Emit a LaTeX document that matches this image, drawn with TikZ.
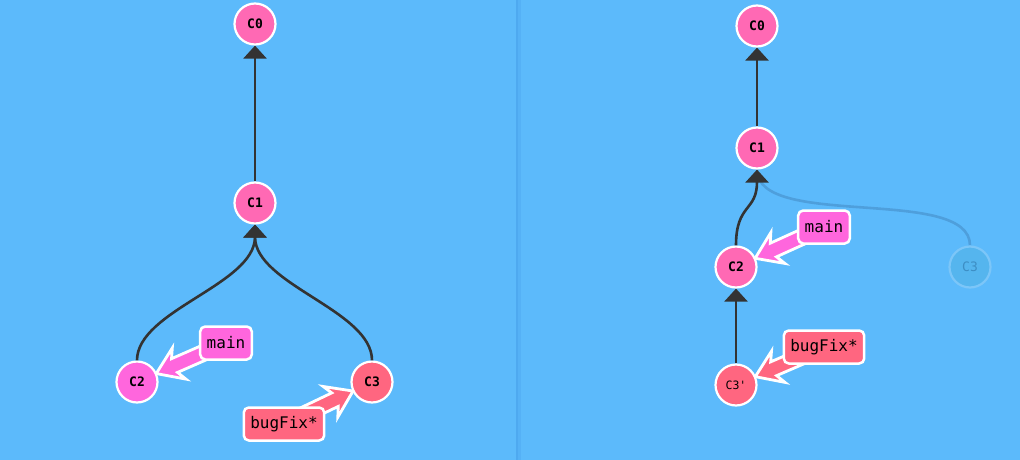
\documentclass[tikz,border=0pt]{standalone}
\usepackage{fontspec}
\setmonofont{DejaVu Sans Mono}
\usetikzlibrary{calc,arrows.meta}
\definecolor{bgblue}{HTML}{5CBAFB}
\definecolor{divblue}{HTML}{4EA9F0}
\definecolor{hotpink}{HTML}{FF69B4}
\definecolor{magent}{HTML}{FF66DD}
\definecolor{redpink}{HTML}{FF6680}
\definecolor{edgegray}{HTML}{333333}
\definecolor{ghostfill}{HTML}{55B5EE}
\definecolor{ghostborder}{HTML}{7CC6F8}
\definecolor{ghostline}{HTML}{4E9FDC}
\definecolor{ghosttext}{HTML}{3D8EC4}
\pgfdeclarelayer{arrowlayer}
\pgfsetlayers{arrowlayer,main}
\tikzset{
  commit/.style={circle, draw=white, line width=2.2pt, minimum size=41pt, inner sep=0pt,
    font=\ttfamily\bfseries\fontsize{13pt}{13pt}\selectfont, text=black},
  smalltext/.style={font=\ttfamily\fontsize{11.5pt}{11.5pt}\selectfont},
  ghost/.style={circle, draw=ghostborder, line width=2.2pt, fill=ghostfill, minimum size=41pt,
    inner sep=0pt, font=\ttfamily\fontsize{13pt}{13pt}\selectfont, text=ghosttext},
  branchlabel/.style={rectangle, rounded corners=5pt, draw=white, line width=2.5pt,
    font=\ttfamily\fontsize{16pt}{16pt}\selectfont, text=black, minimum height=33pt, inner xsep=6.5pt},
  parentedge/.style={draw=edgegray, line width=2.6pt, -{Triangle[length=13pt,width=23pt]}},
  ghostedge/.style={draw=ghostline, line width=2.6pt},
  fatborder/.style={draw=white, line width=2.8pt, line join=miter}
}
\newcommand\fatarrow[3]{%
  \coordinate (faT) at ($(#3)!21pt!(#2)$);
  \coordinate (faH) at ($(faT)!20pt!(#2)$);
  \coordinate (faB) at ($(faT)!25pt!(#2)$);
  \begin{pgfonlayer}{arrowlayer}
  \draw[fatborder, fill=#1]
    ($(#2)!7.5pt!90:(faT)$) -- ($(faH)!7.5pt!90:(faT)$) -- ($(faB)!17pt!90:(faT)$) -- (faT)
    -- ($(faB)!17pt!-90:(faT)$) -- ($(faH)!7.5pt!-90:(faT)$) -- ($(#2)!7.5pt!-90:(faT)$) -- cycle;
  \end{pgfonlayer}
}
\begin{document}
\begin{tikzpicture}[x=1pt,y=-1pt]
\begin{pgfonlayer}{arrowlayer}
\fill[bgblue] (0,0) rectangle (1020,460);
\fill[divblue!50!bgblue] (518,0) rectangle (521,460);
\fill[divblue] (516,0) rectangle (518,460);
\end{pgfonlayer}
\useasboundingbox (0,0) rectangle (1020,460);
% left panel
\node[commit, fill=hotpink] (lc0) at (255,24) {C0};
\node[commit, fill=hotpink] (lc1) at (255,203) {C1};
\node[commit, fill=magent] (lc2) at (137,382) {C2};
\node[commit, fill=redpink] (lc3) at (372,382) {C3};
\node[branchlabel, fill=magent] (lmain) at (226,343) {main};
\node[branchlabel, fill=redpink] (lbug) at (284,424) {bugFix*};
\draw[parentedge] (lc1.north) -- (lc0.south);
\draw[parentedge] (lc2.north) .. controls ($(lc2.north)+(0,-50)$) and ($(lc1.south)+(0,60)$) .. (lc1.south);
\draw[parentedge] (lc3.north) .. controls ($(lc3.north)+(0,-50)$) and ($(lc1.south)+(0,60)$) .. (lc1.south);
\fatarrow{magent}{lmain}{lc2}
\fatarrow{redpink}{lbug}{lc3}
% right panel
\node[commit, fill=hotpink] (rc0) at (757,26) {C0};
\node[commit, fill=hotpink] (rc1) at (757,148) {C1};
\node[commit, fill=hotpink] (rc2) at (736,267) {C2};
\node[commit, fill=redpink, smalltext] (rc3p) at (736,385) {C3'};
\node[ghost] (rc3) at (970,267) {C3};
\node[branchlabel, fill=magent] (rmain) at (824,227) {main};
\node[branchlabel, fill=redpink] (rbug) at (824,347) {bugFix*};
\begin{pgfonlayer}{arrowlayer}
\draw[ghostedge] (rc3.north) .. controls (970,185) and (757,230) .. (rc1.south);
\end{pgfonlayer}
\draw[parentedge] (rc1.north) -- (rc0.south);
\draw[parentedge] (rc2.north) .. controls ($(rc2.north)+(0,-42)$) and ($(rc1.south)+(0,42)$) .. (rc1.south);
\draw[parentedge] (rc3p.north) -- (rc2.south);
\fatarrow{magent}{rmain}{rc2}
\fatarrow{redpink}{rbug}{rc3p}
\end{tikzpicture}
\end{document}
